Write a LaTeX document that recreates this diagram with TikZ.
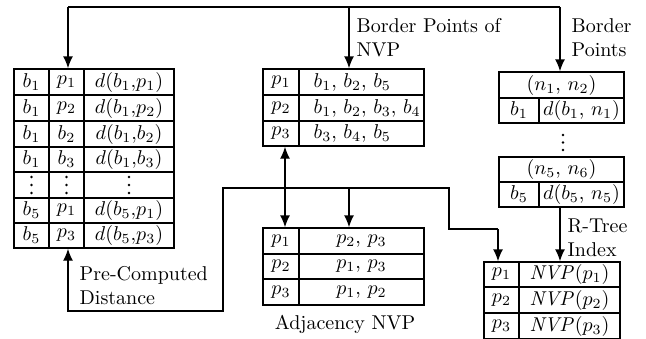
\documentclass[tikz,border=0pt]{standalone}
\usetikzlibrary{arrows.meta,fit}
\begin{document}
\begin{tikzpicture}[x=0.5pt,y=-0.5pt,line width=0.7pt,
  tbl/.style={draw,inner sep=0pt,line width=0.7pt},
  cell/.style={inner sep=0pt,font=\fontsize{10}{12}\selectfont},
  lbl/.style={inner sep=0pt,align=left,font=\fontsize{10}{12}\selectfont},
  vdot/.style={fill,circle,inner sep=0pt,minimum size=1.3pt},
  arr/.style={-{Latex[length=6pt,width=5pt]}},
  darr/.style={{Latex[length=6pt,width=5pt]}-{Latex[length=6pt,width=5pt]}}]
\useasboundingbox (0,0) rectangle (646,338);

% ---------- left table: pre-computed distance
\node[tbl,fit={(14,69)(174,248)}] (LT) {};
\foreach \y in {95,121,147,172,198,223} \draw (14,\y) -- (174,\y);
\draw (49,69) -- (49,248) (84,69) -- (84,248);
\foreach \y/\a/\b/\c [count=\i] in {82/b_1/p_1/{d(b_1{,}p_1)},108/b_1/p_2/{d(b_1{,}p_2)},134/b_1/b_2/{d(b_1{,}b_2)},159.5/b_1/b_3/{d(b_1{,}b_3)},210.5/b_5/p_1/{d(b_5{,}p_1)},235.5/b_5/p_3/{d(b_5{,}p_3)}}{
  \node[cell] (LA\i) at (31.5,\y) {$\a$};
  \node[cell] (LB\i) at (66.5,\y) {$\b$};
  \node[cell] (LC\i) at (129,\y) {$\c$};
}
% vertical ellipses in the left table
\foreach \x [count=\i] in {31.5,66.5,129}{
  \node[vdot] (LV\i a) at (\x,177) {};
  \node[vdot] (LV\i b) at (\x,185) {};
  \node[vdot] (LV\i c) at (\x,193) {};
}

% ---------- middle table: border points of NVP
\node[tbl,fit={(263,69)(424,146)}] (MT) {};
\draw (263,95) -- (424,95) (263,121) -- (424,121) (299,69) -- (299,146);
\node[cell] (MA1) at (281,82) {$p_1$};
\node[cell] (MA2) at (281,108) {$p_2$};
\node[cell] (MA3) at (281,133.5) {$p_3$};
\node[cell,anchor=west] (MB1) at (313,82) {$b_1$, $b_2$, $b_5$};
\node[cell,anchor=west] (MB2) at (313,108) {$b_1$, $b_2$, $b_3$, $b_4$};
\node[cell,anchor=west] (MB3) at (313,133.5) {$b_3$, $b_4$, $b_5$};

% ---------- adjacency table
\node[tbl,fit={(263,228)(424,305)}] (AT) {};
\draw (263,254) -- (424,254) (263,279) -- (424,279) (299,228) -- (299,305);
\node[cell] (AA1) at (281,241) {$p_1$};
\node[cell] (AA2) at (281,266.5) {$p_2$};
\node[cell] (AA3) at (281,292) {$p_3$};
\node[cell] (AB1) at (361.5,241) {$p_2$, $p_3$};
\node[cell] (AB2) at (361.5,266.5) {$p_1$, $p_3$};
\node[cell] (AB3) at (361.5,292) {$p_1$, $p_2$};
\node[lbl] (ATl) at (345,324) {Adjacency NVP};

% ---------- right: border points
\node[tbl,fit={(499,72)(624,123)}] (RA) {};
\draw (499,98) -- (624,98) (539,98) -- (539,123);
\node[cell] (RA1) at (561.5,85) {$(n_1$, $n_2)$};
\node[cell] (RA2) at (519,110.5) {$b_1$};
\node[cell] (RA3) at (581.5,110.5) {$d(b_1$, $n_1)$};
\node[vdot] (RDa) at (563,135) {};
\node[vdot] (RDb) at (563,142.5) {};
\node[vdot] (RDc) at (563,150) {};
\node[tbl,fit={(499,157)(624,207)}] (RC) {};
\draw (499,182) -- (624,182) (539,182) -- (539,207);
\node[cell] (RC1) at (561.5,169.5) {$(n_5$, $n_6)$};
\node[cell] (RC2) at (519,194.5) {$b_5$};
\node[cell] (RC3) at (581.5,194.5) {$d(b_5$, $n_5)$};

% ---------- right bottom: R-tree index
\node[tbl,fit={(484,262)(620,339)}] (RB) {};
\draw (484,287) -- (620,287) (484,313) -- (620,313) (519,262) -- (519,339);
\node[cell] (RB1) at (501.5,274.5) {$p_1$};
\node[cell] (RB2) at (501.5,300) {$p_2$};
\node[cell] (RB3) at (501.5,326) {$p_3$};
\node[cell] (RB4) at (569.5,274.5) {$\mathit{NVP}(p_1)$};
\node[cell] (RB5) at (569.5,300) {$\mathit{NVP}(p_2)$};
\node[cell] (RB6) at (569.5,326) {$\mathit{NVP}(p_3)$};

% ---------- labels
\node[lbl,anchor=west] (L1) at (356,38) {Border Points of\\NVP};
\node[lbl,anchor=west] (L2) at (571,38) {Border\\Points};
\node[lbl,anchor=west] (L3) at (567,238) {R-Tree\\Index};
\node[lbl,anchor=west] (L4) at (79,286) {Pre-Computed\\Distance};

% ---------- top distribution line
\coordinate (ta) at (68,7);
\coordinate (tm) at (349,7);
\coordinate (tb) at (560,7);
\draw (ta) -- (tb);
\draw[arr] (ta) -- (ta |- LT.north);
\draw[arr] (tm) -- (tm |- MT.north);
\draw[arr] (tb) -- (tb |- RA.north);
\draw[arr] (tb |- RC.south) -- (tb |- RB.north);

% ---------- bottom distribution line
\coordinate (j1) at (68,311);
\coordinate (j2) at (223,311);
\coordinate (j3) at (223,188);
\coordinate (j4) at (449,188);
\coordinate (j5) at (449,229);
\coordinate (j6) at (498,229);
\coordinate (j7) at (349,188);
\coordinate (d1) at (285,0);
\draw[arr] (j6) -- (j5) -- (j4) -- (j3) -- (j2) -- (j1) -- (j1 |- LT.south);
\draw[arr] (j6) -- (j6 |- RB.north);
\draw[arr] (j7) -- (j7 |- AT.north);
\draw[darr] (d1 |- MT.south) -- (d1 |- AT.north);
\end{tikzpicture}
\end{document}
